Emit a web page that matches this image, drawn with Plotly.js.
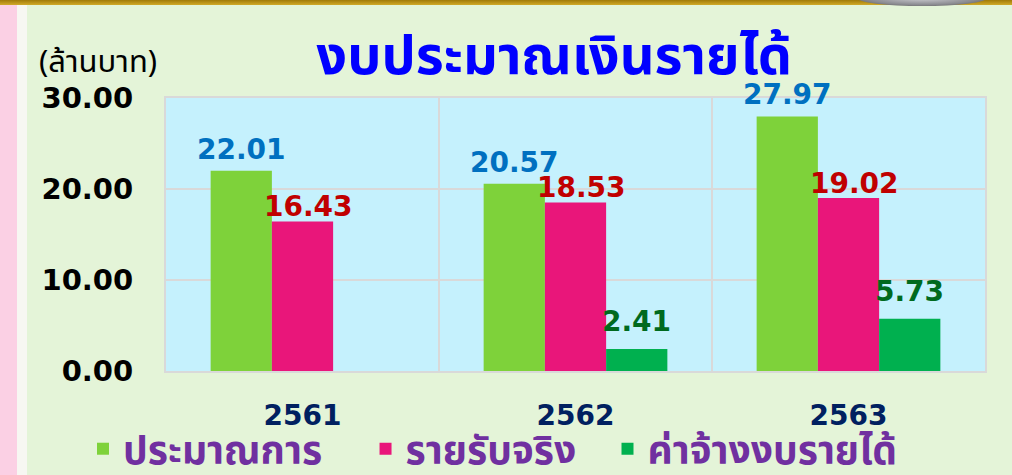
<!DOCTYPE html>
<html><head><meta charset="utf-8">
<script src="https://cdn.plot.ly/plotly-3.0.1.min.js"></script>
<style>
html,body{margin:0;padding:0;width:1012px;height:475px;overflow:hidden;}
body{background:linear-gradient(to right,#FBD0E4 0,#FBD0E4 17px,#F7F7F2 17px,#F7F7F2 27px,#E4F4D8 27px);position:relative;}
#topbar{position:absolute;left:0;top:0;width:1012px;height:5px;background:linear-gradient(to bottom,#A07A08,#D1A928);z-index:5;}
#coin{position:absolute;left:857px;top:-10px;width:130px;height:16px;border-radius:50%;background:radial-gradient(ellipse at center,#cfcfd4 0,#8a8a90 60%,#4a4a40 100%);z-index:6;}
#chart{position:absolute;left:0;top:0;width:1012px;height:475px;}
</style></head>
<body>
<div id="topbar"></div><div id="coin"></div>
<div id="chart"></div>
<script>
const categories = ['2561', '2562', '2563'];
const seriesNames = ['ประมาณการ', 'รายรับจริง', 'ค่าจ้างงบรายได้'];
const estimate = [22.01, 20.57, 27.97];
const actual = [16.43, 18.53, 19.02];
const wages = [null, 2.41, 5.73];
const yTicks = [0, 10, 20, 30];

const barColors = ['#7ED23A', '#E9167A', '#00B04F'];
const labelColors = ['#0070C0', '#C00000', '#006A1E'];
const labelXShift = [-61, 6, 61];
const labelYShift = [3, -4, 9];
const legendIds = ['legend', 'legend2', 'legend3'];
const legendX = [0.082, 0.3612, 0.6003];
const seriesValues = [estimate, actual, wages];

const numFont = 'DejaVu Sans, Verdana, sans-serif';
const thaiFont = 'Tahoma, "Noto Sans Thai", "Noto Sans", sans-serif';

const traces = seriesValues.map((vals, i) => ({
  type: 'bar', x: categories, y: vals, name: seriesNames[i],
  marker: {color: barColors[i]}, hoverinfo: 'x+y+name',
  legend: legendIds[i]
}));

const annotations = [];
seriesValues.forEach((vals, i) => {
  vals.forEach((v, j) => {
    if (v === null) return;
    annotations.push({
      xref: 'x', yref: 'y', x: j, y: v, text: v.toFixed(2),
      showarrow: false, xanchor: 'center', yanchor: 'bottom',
      xshift: labelXShift[i], yshift: labelYShift[i],
      font: {family: numFont, size: 28, color: labelColors[i], weight: 'bold'}
    });
  });
});
annotations.push({
  xref: 'paper', yref: 'paper', x: -0.158, y: 1.13, xanchor: 'left', yanchor: 'middle',
  text: '(ล้านบาท)', showarrow: false,
  font: {family: thaiFont, size: 31, color: '#000000'}
});

const layout = {
  width: 1012, height: 475,
  margin: {l: 166, r: 27, t: 98, b: 104},
  paper_bgcolor: 'rgba(0,0,0,0)',
  plot_bgcolor: '#C5F1FD',
  barmode: 'group', bargap: 0.327, bargroupgap: 0,
  title: {text: 'งบประมาณเงินรายได้', x: 0.474, xref: 'paper', y: 0.884, yref: 'container', xanchor: 'center', yanchor: 'middle',
    font: {family: thaiFont, size: 54, color: '#0000FF', weight: 'bold'}},
  xaxis: {type: 'category', tickson: 'boundaries', showgrid: true, gridcolor: '#D9D9D9', gridwidth: 2,
    showline: true, mirror: true, linecolor: '#D9D9D9', linewidth: 2, ticks: '', automargin: false,
    ticklabelstandoff: 18, tickangle: 0,
    tickfont: {family: numFont, size: 28, color: '#002060', weight: 'bold'}},
  yaxis: {range: [0, 30], tickvals: yTicks, tickformat: '.2f', showgrid: true, gridcolor: '#D9D9D9', gridwidth: 2,
    showline: true, mirror: true, linecolor: '#D9D9D9', linewidth: 2, ticks: '', zeroline: false, automargin: false,
    ticklabelstandoff: 25,
    tickfont: {family: numFont, size: 29, color: '#000000', weight: 'bold'}},
  showlegend: true,
  annotations: annotations
};
legendIds.forEach((id, i) => {
  layout[id] = {orientation: 'h', xref: 'container', x: legendX[i], xanchor: 'left', yref: 'container', y: 0.055, yanchor: 'middle',
    bgcolor: 'rgba(0,0,0,0)',
    font: {family: thaiFont, size: 39, color: '#7030A0', weight: 'bold'}};
});
Plotly.newPlot('chart', traces, layout, {displayModeBar: false, staticPlot: true});
</script>
</body></html>
